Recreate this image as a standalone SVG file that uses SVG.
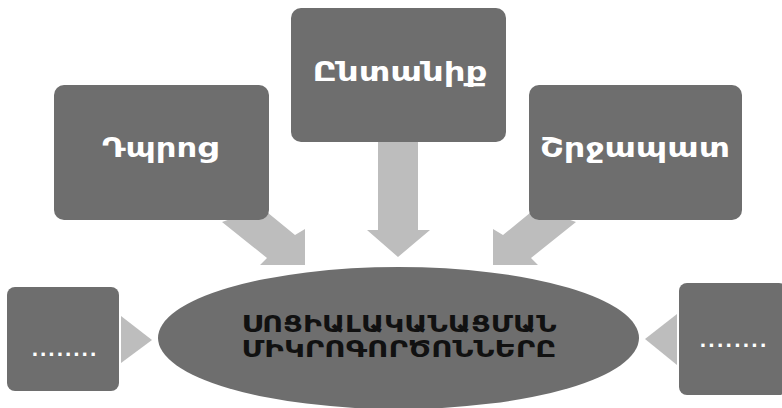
<svg xmlns="http://www.w3.org/2000/svg" width="782" height="408" viewBox="0 0 782 408">
<style>
.box{fill:#6e6e6e}
.arrow{fill:#bdbdbd}
.lbl{font-family:"DejaVu Sans","Noto Sans",sans-serif;font-weight:bold;fill:#ffffff;text-anchor:middle}
.big{font-size:26px}
.dots{font-size:18px}
.core{font-family:"DejaVu Sans","Noto Sans",sans-serif;font-weight:bold;font-size:23px;fill:#111111;text-anchor:middle}
</style>
<rect width="782" height="408" fill="#ffffff"/>
<g id="connectors">
  <polygon class="arrow" points="222,222 262,208 295,235 305,229 305,265 260,265 267,258"/>
  <polygon class="arrow" points="378,140 418,140 418,230 430,230 398,257 367,230 378,230"/>
  <polygon class="arrow" points="576,222 536,208 503,235 493,229 493,265 538,265 531,258"/>
  <polygon class="arrow" points="121,316 152,340 121,363"/>
  <polygon class="arrow" points="677,314 645,339 677,365"/>
</g>
<g id="node-school">
  <rect class="box" x="54" y="85" width="215" height="135" rx="10"/>
  <text class="lbl big" x="160" y="157" textLength="116" lengthAdjust="spacingAndGlyphs">Դպրոց</text>
</g>
<g id="node-family">
  <rect class="box" x="291" y="8" width="215" height="134" rx="10"/>
  <text class="lbl big" x="400" y="81" textLength="175" lengthAdjust="spacingAndGlyphs">Ընտանիք</text>
</g>
<g id="node-environment">
  <rect class="box" x="529" y="85" width="213" height="135" rx="10"/>
  <text class="lbl big" x="635" y="157" textLength="190" lengthAdjust="spacingAndGlyphs">Շրջապատ</text>
</g>
<g id="node-left-dots">
  <rect class="box" x="7" y="287" width="112" height="104" rx="8"/>
  <text class="lbl dots" x="64" y="356" textLength="65" lengthAdjust="spacing">........</text>
</g>
<g id="node-right-dots">
  <rect class="box" x="679" y="283" width="108" height="112" rx="8"/>
  <text class="lbl dots" x="733" y="347" textLength="67" lengthAdjust="spacing">........</text>
</g>
<g id="node-core">
  <ellipse class="box" cx="398.5" cy="338" rx="240.5" ry="71"/>
  <text class="core" x="399" y="332" textLength="315" lengthAdjust="spacingAndGlyphs">ՍՈՑԻԱԼԱԿԱՆԱՑՄԱՆ</text>
  <text class="core" x="399" y="357" textLength="315" lengthAdjust="spacingAndGlyphs">ՄԻԿՐՈԳՈՐԾՈՆՆԵՐԸ</text>
</g>
</svg>
